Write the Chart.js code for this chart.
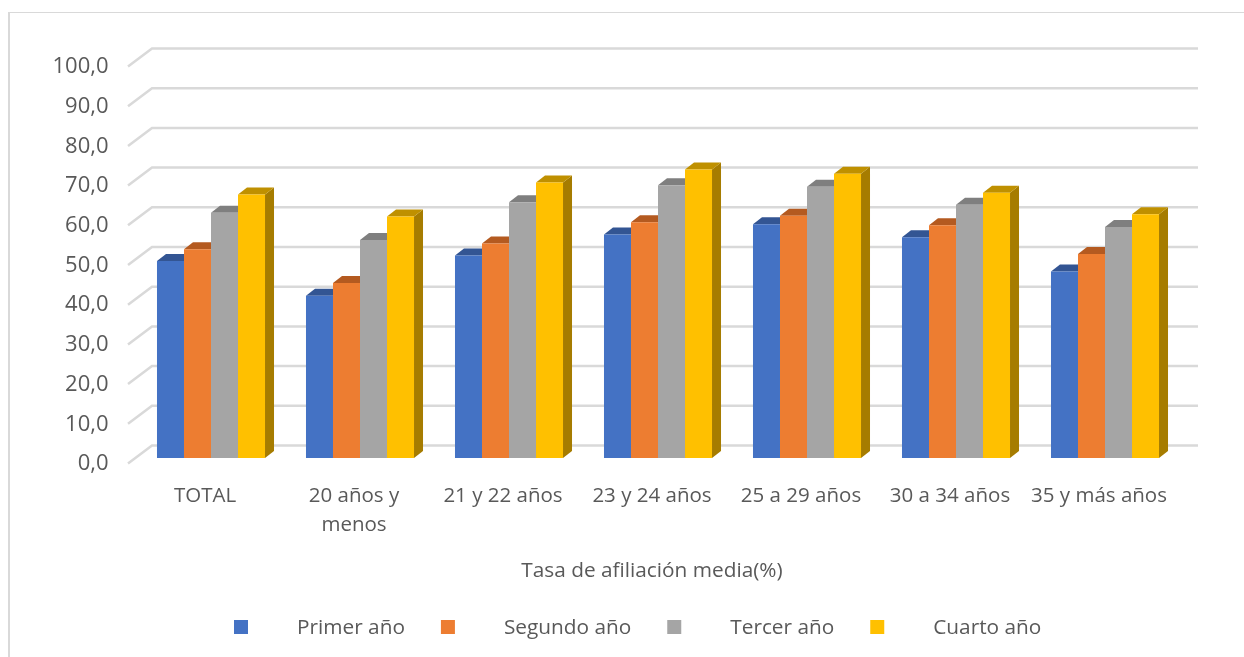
<!DOCTYPE html>
<html>
<head>
<meta charset="utf-8">
<title>Tasa de afiliación media</title>
<script src="https://cdn.jsdelivr.net/npm/chart.js@4"></script>
<style>
    html, body { margin: 0; padding: 0; background: #fff; overflow: hidden; }
    #wrap { position: relative; width: 1244px; height: 657px; }
    #frame { position: absolute; left: 8px; top: 12px; right: -4px; bottom: -4px; border: 1px solid #d9d9d9; border-left-width: 2px; }
</style>
</head>
<body>
<div id="wrap">
    <div id="frame"></div>
    <canvas id="chart" width="1244" height="657"></canvas>
</div>
<script>
const categories = ['TOTAL', ['20 años y', 'menos'], '21 y 22 años', '23 y 24 años', '25 a 29 años', '30 a 34 años', '35 y más años'];
const primerAno = [49.6, 40.9, 51.0, 56.3, 58.9, 55.6, 47.0];
const segundoAno = [52.6, 44.1, 54.0, 59.4, 61.0, 58.6, 51.4];
const tercerAno = [61.8, 54.9, 64.4, 68.7, 68.3, 63.8, 58.2];
const cuartoAno = [66.4, 60.8, 69.4, 72.7, 71.6, 66.8, 61.4];
const axisTitle = 'Tasa de afiliación media(%)';

const FONT = '"Open Sans", sans-serif';
const TEXT = '#595959';
const GRID = '#d9d9d9';

// front colour, top face, side face
const faces = [
    ['#4472c4', '#335593', '#2c4a80'],
    ['#ed7d31', '#b45a20', '#a0501c'],
    ['#a5a5a5', '#7f7f7f', '#6f6f6f'],
    ['#ffc000', '#bf9000', '#a67c00'],
];

// the bars are drawn flat by chart.js, this adds the walls and the depth faces
const fake3d = {
    id: 'fake3d',
    beforeDatasetsDraw(chart) {
        const { ctx, scales: { y }, chartArea } = chart;
        const poly = (pts, color) => {
            ctx.fillStyle = color;
            ctx.beginPath();
            pts.forEach((p, i) => (i ? ctx.lineTo(p[0], p[1]) : ctx.moveTo(p[0], p[1])));
            ctx.closePath();
            ctx.fill();
        };

        ctx.save();
        ctx.strokeStyle = GRID;
        ctx.lineWidth = 2.5;
        y.ticks.forEach((t) => {
            const py = y.getPixelForValue(t.value);
            ctx.beginPath();
            ctx.moveTo(chartArea.left - 8.5, py + 5.5);
            ctx.lineTo(chartArea.left + 15.5, py - 12.5);
            ctx.lineTo(chartArea.right + 18.5, py - 12.5);
            ctx.stroke();
        });

        const dx = 9, dy = 7;
        chart.data.datasets.forEach((ds, i) => {
            chart.getDatasetMeta(i).data.forEach((bar) => {
                const l = bar.x - bar.width / 2, r = bar.x + bar.width / 2;
                poly([[r, bar.y], [r + dx, bar.y - dy], [r + dx, bar.base - dy], [r, bar.base]], faces[i][2]);
                poly([[l, bar.y], [l + dx, bar.y - dy], [r + dx, bar.y - dy], [r, bar.y]], faces[i][1]);
            });
        });
        ctx.restore();
    },
    afterDraw(chart) {
        const { ctx } = chart;
        ctx.save();
        ctx.font = '20.8px ' + FONT;
        ctx.fillStyle = TEXT;
        ctx.textBaseline = 'middle';
        ctx.textAlign = 'center';
        ctx.fillText(axisTitle, 652, 571);

        // legend with the wide gap between swatch and text
        ctx.textAlign = 'left';
        let x = 234;
        chart.data.datasets.forEach((ds) => {
            ctx.fillStyle = ds.backgroundColor;
            ctx.fillRect(x, 620, 14, 14);
            ctx.fillStyle = TEXT;
            ctx.fillText(ds.label, x + 63, 628);
            x += 63 + ctx.measureText(ds.label).width + 36;
        });
        ctx.restore();
    },
};

new Chart(document.getElementById('chart').getContext('2d'), {
    type: 'bar',
    data: {
        labels: categories,
        datasets: [
            { label: 'Primer año', data: primerAno, backgroundColor: faces[0][0] },
            { label: 'Segundo año', data: segundoAno, backgroundColor: faces[1][0] },
            { label: 'Tercer año', data: tercerAno, backgroundColor: faces[2][0] },
            { label: 'Cuarto año', data: cuartoAno, backgroundColor: faces[3][0] },
        ],
    },
    options: {
        responsive: false,
        animation: false,
        datasets: { bar: { categoryPercentage: 0.725, barPercentage: 1 } },
        layout: { padding: { top: 61, left: 0, right: 64.5, bottom: 0 } },
        plugins: { legend: { display: false }, title: { display: false }, tooltip: { enabled: false } },
        scales: {
            x: {
                grid: { display: false, drawTicks: false },
                border: { display: false },
                ticks: { color: TEXT, font: { family: FONT, size: 20.5, lineHeight: 1.4 }, padding: 24, labelOffset: -6, maxRotation: 0, autoSkip: false },
                afterFit: (s) => { s.height = 199; },
            },
            y: {
                min: 0,
                max: 100,
                grid: { display: false, drawTicks: false },
                border: { display: false },
                ticks: {
                    stepSize: 10,
                    color: TEXT,
                    font: { family: FONT, size: 22 },
                    padding: 28,
                    labelOffset: 6,
                    callback: (v) => v.toFixed(1).replace('.', ','),
                },
                afterFit: (s) => { s.width = 136.5; },
            },
        },
    },
    plugins: [fake3d],
});
</script>
</body>
</html>
